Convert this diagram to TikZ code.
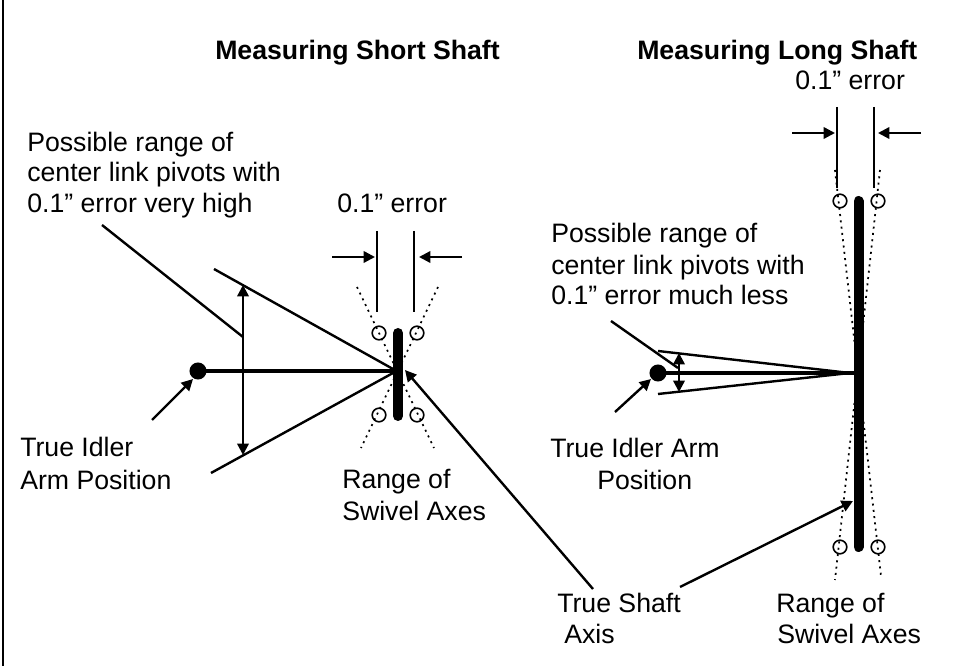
\documentclass[tikz,border=0pt]{standalone}
\usepackage{fontspec}
\setmainfont{Liberation Sans}
\usetikzlibrary{arrows.meta}
\tikzset{
 x=0.75pt,y=-0.75pt,
 lbl/.style={inner sep=0pt,anchor=base west,font=\fontsize{20}{24}\selectfont,align=left},
 ttl/.style={lbl,font=\fontsize{20}{24}\selectfont\bfseries},
 thin/.style={line width=1.8pt},
 shaft/.style={line width=3.5pt},
 post/.style={line width=7.5pt,line cap=round},
 dots/.style={line width=1.3pt,dash pattern=on 1.5pt off 3.25pt},
 pivot/.style={circle,draw,line width=1.2pt,minimum size=10.2pt,inner sep=0pt},
 pt/.style={circle,fill=black,minimum size=12.8pt,inner sep=0pt},
 tip/.style={-{Triangle[length=8.5pt,width=8.5pt]}},
 tips/.style={{Triangle[length=8.5pt,width=8.5pt]}-{Triangle[length=8.5pt,width=8.5pt]}},
}
\begin{document}
\begin{tikzpicture}
\useasboundingbox (0,0) rectangle (954,666);
\coordinate (ba) at (2.9,0); \coordinate (bb) at (2.9,666);
\draw[line width=1.9pt] (ba) -- (bb);
% ---- left
\node[ttl] (t1) at (215,60) {Measuring Short Shaft};
\node[lbl] (r1a) at (27,152) {Possible range of};
\node[lbl] (r1b) at (27,182) {center link pivots with};
\node[lbl] (r1c) at (27,213) {0.1” error very high};
\node[lbl] (e1) at (337,213) {0.1” error};
\node[lbl] (i1a) at (20,457) {True Idler};
\node[lbl] (i1b) at (20,490) {Arm Position};
\node[lbl] (s1a) at (342,489) {Range of};
\node[lbl] (s1b) at (342,521) {Swivel Axes};
\coordinate (c1) at (398,371);
\node[pt] (d1) at (198,371) {};
\coordinate (p1t) at (398,333); \coordinate (p1b) at (398,416);
\foreach \n/\x/\y in {pa/379/333,pb/417/333,pc/379/415,pd/417/415}
  \node[pivot] (\n) at (\x,\y) {};
\coordinate (da) at (357,287); \coordinate (db) at (434,448);
\coordinate (dc) at (438,287); \coordinate (dd) at (361,448);
\draw[dots] (da) -- (db); \draw[dots] (dc) -- (dd);
\draw[post] (p1t) -- (p1b);
\draw[shaft] (d1.center) -- (c1);
\coordinate (u1) at (214,269); \coordinate (l1) at (211,473);
\coordinate (j1) at (393,369); \coordinate (j2) at (393,373);
\draw[thin] (u1) -- (j1); \draw[thin] (l1) -- (j2);
\coordinate (au) at (243,285); \coordinate (al) at (243,455);
\draw[thin,tips] (au) -- (al);
\coordinate (lead1) at (102,225); \coordinate (lead1e) at (243,337);
\draw[thin] (lead1) -- (lead1e);
\coordinate (ta) at (377,231); \coordinate (tb) at (377,312);
\coordinate (tc) at (414,231); \coordinate (td) at (414,312);
\draw[thin] (ta) -- (tb); \draw[thin] (tc) -- (td);
\coordinate (ea) at (332,257); \coordinate (eb) at (375,257);
\coordinate (ec) at (462,257); \coordinate (ed) at (419,257);
\draw[thin,tip] (ea) -- (eb); \draw[thin,tip] (ec) -- (ed);
\coordinate (ia) at (152,420); \coordinate (ib) at (193,379);
\draw[thin,tip] (ia) -- (ib);
\coordinate (sa) at (593,589); \coordinate (sb) at (405,370);
\draw[thin,tip] (sa) -- (sb);
% ---- right
\node[ttl] (t2) at (637,60) {Measuring Long Shaft};
\node[lbl] (e2) at (795,90) {0.1” error};
\node[lbl] (r2a) at (551,243) {Possible range of};
\node[lbl] (r2b) at (551,275) {center link pivots with};
\node[lbl] (r2c) at (551,305) {0.1” error much less};
\node[lbl] (i2a) at (550,458) {True Idler Arm};
\node[lbl] (i2b) at (597,490) {Position};
\node[lbl] (sh2a) at (557,613) {True Shaft};
\node[lbl] (sh2b) at (564,643) {Axis};
\node[lbl] (s2a) at (776,613) {Range of};
\node[lbl] (s2b) at (777,643) {Swivel Axes};
\coordinate (c2) at (858,373);
\node[pt] (d2) at (658,373) {};
\foreach \n/\x/\y in {qa/840/201,qb/878/201,qc/840/547,qd/878/547}
  \node[pivot] (\n) at (\x,\y) {};
\coordinate (fa) at (835,170); \coordinate (fb) at (881,576);
\coordinate (fc) at (880,170); \coordinate (fd) at (835,580);
\draw[dots] (fa) -- (fb); \draw[dots] (fc) -- (fd);
\coordinate (p2t) at (858.5,201); \coordinate (p2b) at (858.5,547);
\draw[post] (p2t) -- (p2b);
\draw[shaft] (d2.center) -- (c2);
\coordinate (u2) at (658,351); \coordinate (l2) at (658,394);
\coordinate (k1) at (850,373);
\draw[thin] (u2) -- (k1); \draw[thin] (l2) -- (k1);
\coordinate (bu) at (679,353); \coordinate (bl) at (679,392);
\draw[thin,tips] (bu) -- (bl);
\coordinate (lead2) at (611,321); \coordinate (lead2e) at (678,368);
\draw[thin] (lead2) -- (lead2e);
\coordinate (ga) at (837,107); \coordinate (gb) at (837,188);
\coordinate (gc) at (874,107); \coordinate (gd) at (874,188);
\draw[thin] (ga) -- (gb); \draw[thin] (gc) -- (gd);
\coordinate (ha) at (792,133); \coordinate (hb) at (835,133);
\coordinate (hc) at (921,133); \coordinate (hd) at (878,133);
\draw[thin,tip] (ha) -- (hb); \draw[thin,tip] (hc) -- (hd);
\coordinate (ja) at (615,412); \coordinate (jb) at (651,379);
\draw[thin,tip] (ja) -- (jb);
\coordinate (ka) at (680,587); \coordinate (kb) at (853,501);
\draw[thin,tip] (ka) -- (kb);
\end{tikzpicture}
\end{document}
